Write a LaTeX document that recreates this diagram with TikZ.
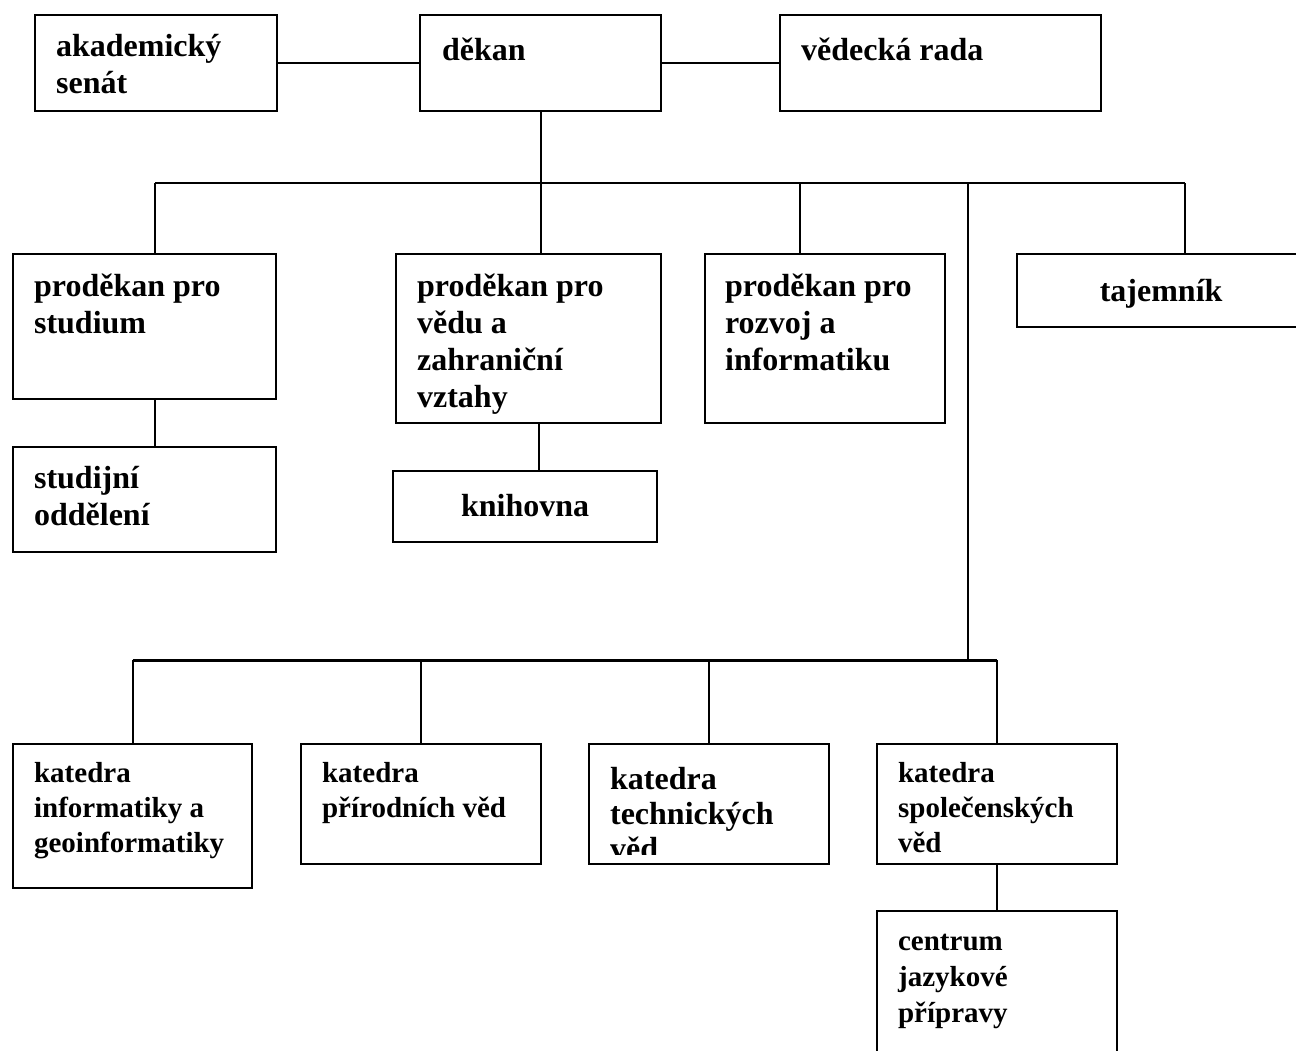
\documentclass[tikz,border=0pt]{standalone}
\usepackage{fontspec}
\setmainfont{Liberation Serif}
\usetikzlibrary{calc}

\begin{document}
\begin{tikzpicture}[x=1pt, y=-1pt, line width=2.2pt,
  box/.style={draw, rectangle, inner sep=0pt, anchor=north west},
  lbl/.style={inner sep=0pt, anchor=north west, align=left,
    font=\fontsize{32}{37}\selectfont\bfseries, execute at begin node=\strut},
  lblsmall/.style={lbl, font=\fontsize{29}{35}\selectfont\bfseries}]
  \useasboundingbox (0,0) rectangle (1296,1050);
  \clip (0,0) rectangle (1296,1050);

  % Top row
  \node[box, minimum width=242, minimum height=96] (senat) at (34,14) {};
  \node[box, minimum width=241, minimum height=96] (dekan) at (419,14) {};
  \node[box, minimum width=321, minimum height=96] (rada) at (779,14) {};
  \node[lbl] (senat-t) at ($(senat.north west)+(21,19)$) {akademický\\senát};
  \node[lbl] (dekan-t) at ($(dekan.north west)+(22,19)$) {děkan};
  \node[lbl] (rada-t) at ($(rada.north west)+(21,19)$) {vědecká rada};
  \draw (senat) -- (dekan);
  \draw (dekan) -- (rada);

  % Vice-deans
  \node[box, minimum width=263, minimum height=145] (studium) at (12,253) {};
  \node[box, minimum width=265, minimum height=169] (veda) at (395,253) {};
  \node[box, minimum width=240, minimum height=169] (rozvoj) at (704,253) {};
  \node[box, minimum width=288, minimum height=73] (tajemnik) at (1016,253) {};
  \node[lbl] (studium-t) at ($(studium.north west)+(21,20)$) {proděkan pro\\studium};
  \node[lbl] (veda-t) at ($(veda.north west)+(21,20)$) {proděkan pro\\vědu a\\zahraniční\\vztahy};
  \node[lbl] (rozvoj-t) at ($(rozvoj.north west)+(20,20)$) {proděkan pro\\rozvoj a\\informatiku};
  \node[lbl, anchor=north] (tajemnik-t) at ($(tajemnik.north)+(0,21)$) {tajemník};

  \node[box, minimum width=263, minimum height=105] (oddeleni) at (12,446) {};
  \node[box, minimum width=264, minimum height=71] (knihovna) at (392,470) {};
  \node[lbl] (oddeleni-t) at ($(oddeleni.north west)+(21,19)$) {studijní\\oddělení};
  \node[lbl, anchor=north] (knihovna-t) at ($(knihovna.north)+(0,19)$) {knihovna};

  % First bus
  \coordinate (b1l) at (155,183);
  \coordinate (b1c) at (800,183);
  \coordinate (trunk) at (968,183);
  \coordinate (b1r) at (1185,183);
  \draw (b1l) -- (b1r);
  \draw (b1l) -- (b1l |- studium.north);
  \draw (dekan.south) -- (dekan.south |- veda.north);
  \draw (b1c) -- (b1c |- rozvoj.north);
  \draw (b1r) -- (b1r |- tajemnik.north);
  \draw (b1l |- studium.south) -- (b1l |- oddeleni.north);
  \coordinate (vk) at ($(veda.south)+(10,0)$);
  \draw (vk) -- (vk |- knihovna.north);

  % Departments
  \node[box, minimum width=239, minimum height=144] (kinf) at (12,743) {};
  \node[box, minimum width=240, minimum height=120] (kprir) at (300,743) {};
  \node[box, minimum width=240, minimum height=120] (ktech) at (588,743) {};
  \node[box, minimum width=240, minimum height=120] (kspol) at (876,743) {};
  \node[box, minimum width=240, minimum height=160] (centrum) at (876,910) {};
  \node[lblsmall] (kinf-t) at ($(kinf.north west)+(21,18)$) {katedra\\informatiky a\\geoinformatiky};
  \node[lblsmall] (kprir-t) at ($(kprir.north west)+(21,18)$) {katedra\\přírodních věd};
  \begin{scope}
    \clip (ktech.north west) rectangle ($(ktech.south east)+(0,-11)$);
    \node[lbl, font=\fontsize{32}{35}\selectfont\bfseries] (ktech-t) at ($(ktech.north west)+(21,23)$) {katedra\\technických\\věd};
  \end{scope}
  \node[lblsmall] (kspol-t) at ($(kspol.north west)+(21,18)$) {katedra\\společenských\\věd};
  \node[lblsmall, font=\fontsize{29}{36}\selectfont\bfseries] (centrum-t) at ($(centrum.north west)+(21,23)$) {centrum\\jazykové\\přípravy};

  % Second bus
  \coordinate (b2) at (0,660);
  \draw (trunk) -- (trunk |- b2);
  \draw[line width=3pt] (kinf.north |- b2) -- (kspol.north |- b2);
  \foreach \n in {kinf, kprir, ktech, kspol}
    \draw (\n.north |- b2) -- (\n.north);
  \draw (kspol) -- (centrum);
\end{tikzpicture}
\end{document}
